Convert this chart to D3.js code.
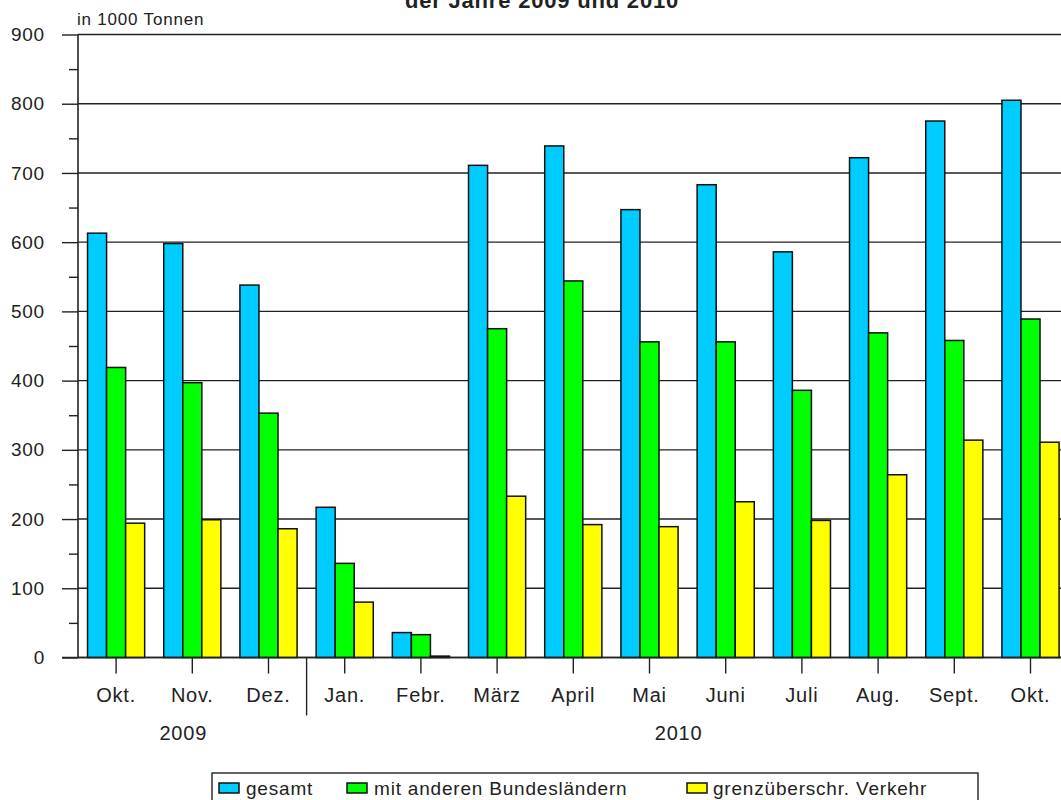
<!DOCTYPE html>
<html>
<head>
<meta charset="utf-8">
<script src="https://cdn.jsdelivr.net/npm/d3@7"></script>
<style>
  body { margin: 0; background: #fff; overflow: hidden; }
  text { font-family: "Liberation Sans", Arial, sans-serif; fill: #222; letter-spacing: 0.8px; }
</style>
</head>
<body>
<script>
// Monate Okt. 2009 bis Okt. 2010
var months = ["Okt.", "Nov.", "Dez.", "Jan.", "Febr.", "März", "April", "Mai", "Juni", "Juli", "Aug.", "Sept.", "Okt."];
var years = [{label: "2009", from: 0, to: 3}, {label: "2010", from: 3, to: 13}];

// in 1000 Tonnen
var gesamt = [613, 598, 538, 217, 36, 711, 739, 647, 683, 586, 722, 775, 805];
var mitBundeslaendern = [419, 397, 353, 136, 33, 475, 544, 456, 456, 386, 469, 458, 489];
var grenzVerkehr = [194, 199, 186, 80, 2, 233, 192, 189, 225, 198, 264, 314, 311];

var seriesNames = ["gesamt", "mit anderen Bundesländern", "grenzüberschr. Verkehr"];
var seriesColors = ["#00ccff", "#00ff00", "#ffff00"];
var yTicks = [0, 100, 200, 300, 400, 500, 600, 700, 800, 900];

var width = 1061, height = 800;
var plotLeft = 78, plotRight = 1068.6, plotTop = 34.5, plotBottom = 657.5;
var lineColor = "#222";

var svg = d3.select("body").append("svg")
  .attr("width", width)
  .attr("height", height);

var table = months.map(function(m, i) {
  return {i: i, month: m, values: [gesamt[i], mitBundeslaendern[i], grenzVerkehr[i]]};
});

var x = d3.scaleBand().domain(d3.range(months.length)).range([plotLeft, plotRight])
  .paddingInner(0.25).paddingOuter(0.125);
var xs = d3.scaleBand().domain([0, 1, 2]).range([0, x.bandwidth()]);
var y = d3.scaleLinear().domain([0, 900]).range([plotBottom, plotTop]);

// title (cut at the top)
svg.append("text")
  .attr("x", 542).attr("y", 8)
  .attr("text-anchor", "middle")
  .style("font-size", "22px").style("font-weight", "bold")
  .text("der Jahre 2009 und 2010");

svg.append("text")
  .attr("x", 77).attr("y", 25)
  .style("font-size", "17px")
  .text("in 1000 Tonnen");

// gridlines
svg.append("g").selectAll("line")
  .data(yTicks)
  .enter().append("line")
  .attr("x1", plotLeft).attr("x2", width + 10)
  .attr("y1", function(d) { return y(d); })
  .attr("y2", function(d) { return y(d); })
  .attr("stroke", lineColor).attr("stroke-width", 1.4);

// y axis
var yAxis = svg.append("g")
  .attr("transform", "translate(" + plotLeft + ",0)")
  .call(d3.axisLeft(y).tickValues(yTicks).tickSize(16).tickPadding(17));
yAxis.select(".domain").remove();
yAxis.selectAll("line").attr("stroke", lineColor).attr("stroke-width", 1.4);
yAxis.selectAll("text").style("font-size", "19px").attr("fill", "#222");

var yMinor = svg.append("g")
  .attr("transform", "translate(" + plotLeft + ",0)")
  .call(d3.axisLeft(y).tickValues(d3.range(50, 900, 100)).tickSize(9).tickFormat(""));
yMinor.select(".domain").remove();
yMinor.selectAll("line").attr("stroke", lineColor).attr("stroke-width", 1.4);

svg.append("line")
  .attr("x1", plotLeft).attr("x2", plotLeft)
  .attr("y1", y(900)).attr("y2", y(0))
  .attr("stroke", lineColor).attr("stroke-width", 1.6);

// bars
var groups = svg.append("g").selectAll("g")
  .data(table)
  .enter().append("g")
  .attr("transform", function(d) { return "translate(" + x(d.i) + ",0)"; });

groups.selectAll("rect")
  .data(function(d) { return d.values; })
  .enter().append("rect")
  .attr("x", function(d, j) { return xs(j); })
  .attr("y", function(d) { return y(d); })
  .attr("width", xs.bandwidth())
  .attr("height", function(d) { return y(0) - y(d); })
  .attr("fill", function(d, j) { return seriesColors[j]; })
  .attr("stroke", "#111").attr("stroke-width", 1.5);

// x axis
var xAxis = svg.append("g")
  .attr("transform", "translate(0," + plotBottom + ")")
  .call(d3.axisBottom(x).tickSize(16).tickFormat(function(i) { return months[i]; }));
xAxis.select(".domain").remove();
xAxis.selectAll("line").attr("stroke", lineColor).attr("stroke-width", 1.4);
xAxis.selectAll("text")
  .attr("y", 44).attr("dy", null)
  .style("font-size", "20px").attr("fill", "#222");

svg.append("line")
  .attr("x1", 62).attr("x2", width + 10)
  .attr("y1", y(0)).attr("y2", y(0))
  .attr("stroke", lineColor).attr("stroke-width", 1.6);

// year separator and labels
var sepX = plotLeft + x.step() * 3;
svg.append("line")
  .attr("x1", sepX).attr("x2", sepX)
  .attr("y1", plotBottom).attr("y2", plotBottom + 58)
  .attr("stroke", lineColor).attr("stroke-width", 1.4);

svg.append("g").selectAll("text")
  .data(years)
  .enter().append("text")
  .attr("x", function(d) {
    var a = plotLeft + x.step() * d.from, b = plotLeft + x.step() * d.to;
    return (a + b) / 2 - 9;
  })
  .attr("y", 740)
  .attr("text-anchor", "middle")
  .style("font-size", "20px")
  .text(function(d) { return d.label; });

// legend
var legend = svg.append("g");
legend.append("rect")
  .attr("x", 212).attr("y", 773)
  .attr("width", 766).attr("height", 40)
  .attr("fill", "none").attr("stroke", lineColor).attr("stroke-width", 1.4);

var legendX = [219, 347, 687];
var items = legend.selectAll("g.item")
  .data(seriesNames)
  .enter().append("g")
  .attr("class", "item")
  .attr("transform", function(d, j) { return "translate(" + legendX[j] + ",0)"; });
items.append("rect")
  .attr("x", 0).attr("y", 783)
  .attr("width", 20).attr("height", 10)
  .attr("fill", function(d, j) { return seriesColors[j]; })
  .attr("stroke", "#111").attr("stroke-width", 1.5);
items.append("text")
  .attr("x", function(d, j) { return j == 2 ? 26 : 27; })
  .attr("y", 795)
  .style("font-size", "19px")
  .text(function(d) { return d; });
</script>
</body>
</html>
